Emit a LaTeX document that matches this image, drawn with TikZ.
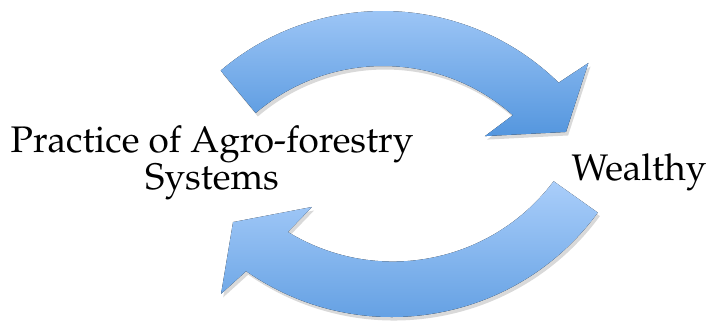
\documentclass[tikz,border=0pt]{standalone}
\usepackage[T1]{fontenc}
\usepackage{mathpazo}
\usepackage{tikz}
\usetikzlibrary{shadows}

\definecolor{arrowtop}{RGB}{170,206,250}
\definecolor{arrowbottom}{RGB}{84,150,222}

\begin{document}
\begin{tikzpicture}[x=0.025cm, y=0.025cm,
    cyclearrow/.style={top color=arrowtop, bottom color=arrowbottom,
        drop shadow={opacity=0.3, shadow xshift=1.5pt, shadow yshift=-2.5pt}},
    textlabel/.style={inner sep=0pt, font=\fontsize{26.3}{26.3}\selectfont, align=center}]
    \useasboundingbox (0,0) rectangle (709,323);

    % Upper arrow, bending over to the right
    \begin{scope}[shift={(383,61)}]
        \fill[cyclearrow] (130.3:251) arc[start angle=130.3, end angle=45.6, radius=251]
            -- (44.1:286) -- (35.4:224.5) -- (51:162) -- (48.5:196)
            arc[start angle=48.5, end angle=130.5, radius=196] -- cycle;
    \end{scope}

    % Lower arrow, bending back to the left
    \begin{scope}[shift={(392,261)}]
        \fill[cyclearrow] (-36.2:255) arc[start angle=-36.2, end angle=-124.9, radius=255]
            -- (-126.4:288) -- (-134.8:225.6) -- (-118.9:165.6) -- (-121.5:199.3)
            arc[start angle=-121.5, end angle=-36.9, radius=201] -- cycle;
    \end{scope}

    % Labels
    \node[textlabel, anchor=base] (practice) at (212,134) {Practice of Agro-forestry\\Systems};
    \node[textlabel, anchor=base] (wealthy) at (639,143) {Wealthy};
\end{tikzpicture}
\end{document}
